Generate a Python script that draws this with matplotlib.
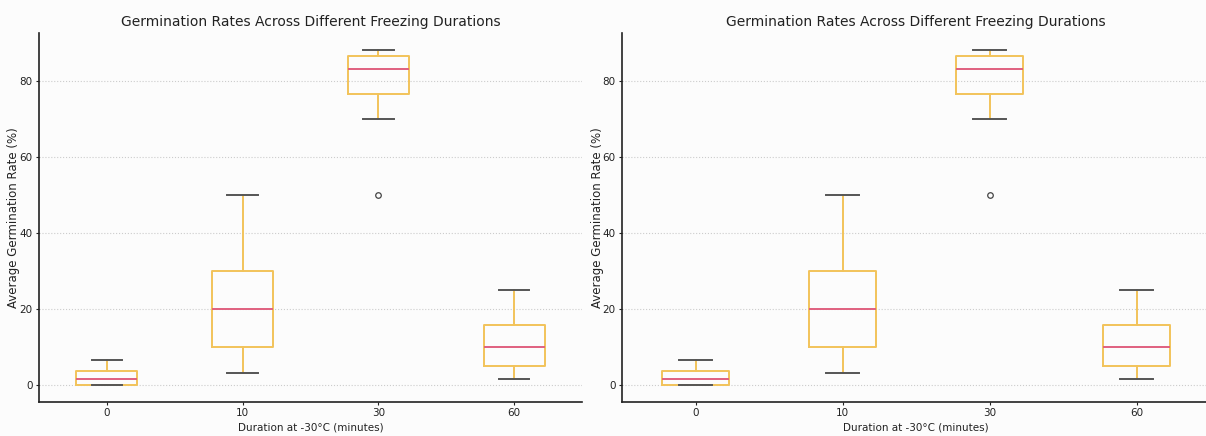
import matplotlib
matplotlib.use("Agg")
import matplotlib.pyplot as plt

durations = ["0", "10", "30", "60"]
whislo = [0.0, 3.33, 70.0, 1.67]
q1 = [0.0, 10.0, 76.67, 5.0]
med = [1.67, 20.0, 83.33, 10.0]
q3 = [3.75, 30.0, 86.67, 15.83]
whishi = [6.67, 50.0, 88.33, 25.0]
fliers = [[], [], [50.0], []]

title = "Germination Rates Across Different Freezing Durations"
xlabel = "Duration at -30°C (minutes)"
ylabel = "Average Germination Rate (%)"

stats = [
    dict(label=lab, whislo=a, q1=b, med=c, q3=d, whishi=e, fliers=f)
    for lab, a, b, c, d, e, f in zip(durations, whislo, q1, med, q3, whishi, fliers)
]

W, H = 1206, 436
fig = plt.figure(figsize=(W / 100, H / 100), dpi=100)
fig.patch.set_facecolor("#fcfcfc")

box_c = "#f2c35a"
med_c = "#e0607f"
cap_c = "#555555"

axes_px = [(39, 582, 20), (622, 1210, 604)]
y_top, y_bot = 33, 402
for x0, x1, ylab_x in axes_px:
    ax = fig.add_axes([x0 / W, (H - y_bot) / H, (x1 - x0) / W, (y_bot - y_top) / H])
    ax.set_facecolor("#fcfcfc")
    ax.bxp(stats, widths=0.45,
           boxprops=dict(color=box_c, linewidth=1.4),
           whiskerprops=dict(color=box_c, linewidth=1.4),
           capprops=dict(color=cap_c, linewidth=1.4),
           medianprops=dict(color=med_c, linewidth=1.4),
           flierprops=dict(marker="o", markersize=4, markerfacecolor="none",
                           markeredgecolor="#444444", markeredgewidth=0.9))
    ax.set_title(title, fontsize=10, color="#222222", pad=5)
    ax.set_xlabel(xlabel, fontsize=7.5, color="#222222", labelpad=3)
    ax.set_ylabel(ylabel, fontsize=8.5, color="#222222")
    ax.yaxis.set_label_coords((ylab_x - x0) / (x1 - x0), 0.5)
    ax.set_yticks([0, 20, 40, 60, 80])
    ax.tick_params(labelsize=7.5, colors="#222222", length=2.5, width=0.8, pad=2)
    ax.yaxis.grid(True, linestyle=":", color="#cccccc", linewidth=0.8)
    ax.set_axisbelow(True)
    for s in ("top", "right"):
        ax.spines[s].set_visible(False)
    for s in ("left", "bottom"):
        ax.spines[s].set_linewidth(1.2)
        ax.spines[s].set_color("#222222")

fig.savefig("out.png", dpi=100, facecolor=fig.get_facecolor())
